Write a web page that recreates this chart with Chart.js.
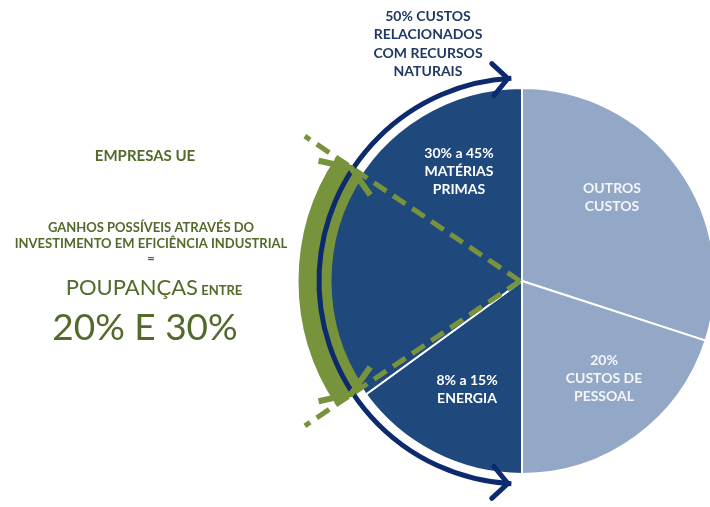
<!DOCTYPE html>
<html>
<head>
<meta charset="utf-8">
<script src="https://cdn.jsdelivr.net/npm/chart.js@4.4.0/dist/chart.umd.min.js"></script>
<style>
  html, body { margin: 0; padding: 0; background: #fff; overflow: hidden; }
  #wrap { position: absolute; left: 0; top: 0; width: 740px; height: 507px; }
</style>
</head>
<body>
<div id="wrap"><canvas id="pie"></canvas></div>
<script>
// --- DATA ---
const slices = ['OUTROS CUSTOS', 'CUSTOS DE PESSOAL', 'ENERGIA', 'MATÉRIAS PRIMAS'];
const shares = [30, 20, 15, 35];
const sliceColors = ['#93a7c6', '#93a7c6', '#1f497d', '#1f497d'];
const sliceText = [
    ['OUTROS', 'CUSTOS'],
    ['20%', 'CUSTOS DE', 'PESSOAL'],
    ['8% a 15%', 'ENERGIA'],
    ['30% a 45%', 'MATÉRIAS', 'PRIMAS']
];
const topNote = ['50% CUSTOS', 'RELACIONADOS', 'COM RECURSOS', 'NATURAIS'];
const sideNote = ['GANHOS POSSÍVEIS ATRAVÉS DO', 'INVESTIMENTO EM EFICIÊNCIA INDUSTRIAL', '='];

// label anchor offsets from the pie centre (px)
const labelSpots = [[90, -84], [82, 97], [-55, 108], [-63, -110]];

const GREEN = '#77933c', NAVY = '#0d2a6e', TEXT_GREEN = '#526a2a';
const FONT = 'Lato, "Open Sans", sans-serif';
const rad = d => d * Math.PI / 180;

function chevron(ctx, x, y, dir, back, spread) {
    // open arrow head with tip at (x,y) pointing along dir (radians)
    const dx = Math.cos(dir), dy = Math.sin(dir), nx = -dy, ny = dx;
    ctx.beginPath();
    ctx.moveTo(x - dx * back + nx * spread, y - dy * back + ny * spread);
    ctx.lineTo(x, y);
    ctx.lineTo(x - dx * back - nx * spread, y - dy * back - ny * spread);
    ctx.stroke();
}

function textLines(ctx, lines, x, y, gap) {
    lines.forEach((t, i) => ctx.fillText(t, x, y + i * gap));
}

const overlay = {
    id: 'overlay',
    afterDatasetsDraw(chart) {
        const ctx = chart.ctx;
        const arc0 = chart.getDatasetMeta(0).data[0];
        const cx = arc0.x, cy = arc0.y, R = arc0.outerRadius;
        ctx.save();

        // green savings band on the left rim
        const gUp = 33.5, gDown = 33.5, gR = R + 14;
        ctx.strokeStyle = GREEN;
        ctx.lineWidth = 33;
        ctx.lineCap = 'butt';
        ctx.beginPath();
        ctx.arc(cx, cy, gR, rad(180 - gDown), rad(180 + gUp), false);
        ctx.stroke();

        // navy bracket arc with arrows at both ends
        const nR = R + 10;
        ctx.strokeStyle = NAVY;
        ctx.lineWidth = 5;
        ctx.beginPath();
        ctx.arc(cx, cy, nR, rad(93), rad(267), false);
        ctx.stroke();
        ctx.lineCap = 'round';
        const tTop = rad(266), tBot = rad(94);
        chevron(ctx, cx + nR * Math.cos(tTop), cy + nR * Math.sin(tTop), tTop + Math.PI / 2, 15, 16);
        chevron(ctx, cx + nR * Math.cos(tBot), cy + nR * Math.sin(tBot), tBot - Math.PI / 2, 15, 16);

        // dashed wedge lines from the centre
        ctx.strokeStyle = GREEN;
        ctx.lineWidth = 5;
        ctx.lineCap = 'butt';
        ctx.setLineDash([15, 8]);
        [180 + gUp + 0.2, 180 - gDown - 0.2].forEach(a => {
            ctx.beginPath();
            ctx.moveTo(cx - 2, cy);
            ctx.lineTo(cx + (R + 68) * Math.cos(rad(a)), cy + (R + 68) * Math.sin(rad(a)));
            ctx.stroke();
        });
        ctx.setLineDash([]);

        // flat arrow heads at the ends of the green band
        ctx.lineWidth = 6;
        const eTop = rad(180 + gUp), eBot = rad(180 - gDown);
        chevron(ctx, cx + (gR - 2) * Math.cos(eTop), cy + (gR - 2) * Math.sin(eTop), eTop + Math.PI / 2, 12, 31);
        chevron(ctx, cx + (gR - 2) * Math.cos(eBot), cy + (gR - 2) * Math.sin(eBot), eBot - Math.PI / 2, 12, 31);

        // slice captions
        ctx.textAlign = 'center';
        ctx.textBaseline = 'middle';
        ctx.font = 'bold 14px ' + FONT;
        sliceText.forEach((lines, i) => {
            const [ox, oy] = labelSpots[i];
            const n = lines.length;
            ctx.fillStyle = i < 2 ? '#f4f6fa' : '#ffffff';
            textLines(ctx, lines, cx + ox, cy + oy - (n - 1) * 9, 18);
        });

        // note above the pie
        ctx.fillStyle = '#1f3864';
        textLines(ctx, topNote, 428, 16, 18.5);

        // left hand text block
        ctx.fillStyle = TEXT_GREEN;
        ctx.font = 'bold 15px ' + FONT;
        ctx.fillText('EMPRESAS UE', 145, 156);
        ctx.font = 'bold 13px ' + FONT;
        textLines(ctx, sideNote, 151, 228, 15.5);

        ctx.textAlign = 'left';
        ctx.textBaseline = 'alphabetic';
        ctx.font = '22px ' + FONT;
        const big = 'POUPANÇAS';
        const w1 = ctx.measureText(big).width;
        ctx.font = 'bold 13px ' + FONT;
        const w2 = ctx.measureText(' ENTRE').width;
        const x0 = 154 - (w1 + w2) / 2;
        ctx.font = '22px ' + FONT;
        ctx.fillText(big, x0, 295);
        ctx.font = 'bold 13px ' + FONT;
        ctx.fillText(' ENTRE', x0 + w1, 295);

        ctx.textAlign = 'center';
        ctx.font = '37px ' + FONT;
        ctx.fillText('20% E 30%', 145, 340);
        ctx.restore();
    }
};

new Chart(document.getElementById('pie'), {
    type: 'pie',
    data: {
        labels: slices,
        datasets: [{
            data: shares,
            backgroundColor: sliceColors,
            borderColor: '#ffffff',
            borderWidth: 2,
            radius: 193
        }]
    },
    options: {
        responsive: true,
        maintainAspectRatio: false,
        devicePixelRatio: 1,
        animation: false,
        layout: { padding: { left: 304, top: 55, right: 0, bottom: 0 } },
        plugins: { legend: { display: false }, tooltip: { enabled: false } }
    },
    plugins: [overlay]
});
</script>
</body>
</html>
